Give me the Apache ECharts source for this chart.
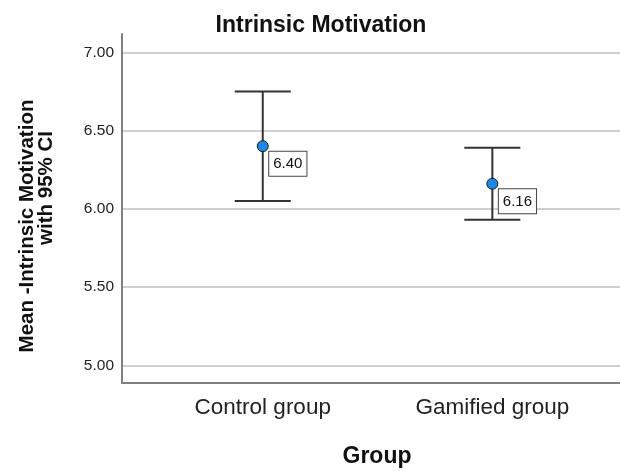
<!DOCTYPE html>
<html>
<head>
<meta charset="utf-8">
<script src="https://cdn.jsdelivr.net/npm/echarts@6/dist/echarts.min.js"></script>
<style>html,body{margin:0;padding:0;background:#fff;}#c{width:620px;height:471px;}</style>
</head>
<body>
<div id="c"></div>
<script>
const categories = ['Control group', 'Gamified group'];
const means = [6.40, 6.16];
const ciLower = [6.05, 5.93];
const ciUpper = [6.75, 6.39];
const yTicks = [5.00, 5.50, 6.00, 6.50, 7.00];
const titleText = 'Intrinsic Motivation';
const yTitleLines = ['Mean -Intrinsic Motivation', 'with 95% CI'];
const xTitle = 'Group';

const FONT = '"Liberation Sans", Arial, sans-serif';
const chart = echarts.init(document.getElementById('c'));
const xPos = categories.map((c, i) => i + 1);

chart.setOption({
  animation: false,
  backgroundColor: '#fff',
  title: {
    text: titleText, left: 316, top: 9, textAlign: 'center',
    textStyle: { fontFamily: FONT, fontSize: 23, fontWeight: 'bold', color: '#111' }
  },
  grid: { left: 122, right: 0, top: 34, bottom: 88, containLabel: false },
  xAxis: {
    type: 'value', min: 0.387, max: 2.556,
    axisLine: { show: true, onZero: false, lineStyle: { color: '#808080', width: 2 } },
    axisTick: { show: false },
    splitLine: { show: false },
    axisLabel: {
      customValues: xPos,
      formatter: v => categories[Math.round(v) - 1] || '',
      margin: 13,
      fontFamily: FONT, fontSize: 22.5, color: '#222'
    }
  },
  yAxis: {
    type: 'value', min: 4.887, max: 7.117,
    axisLine: { show: true, lineStyle: { color: '#808080', width: 2 } },
    axisTick: { show: false, customValues: yTicks },
    splitLine: { show: true, lineStyle: { color: '#cfcfcf', width: 2 } },
    axisLabel: {
      customValues: yTicks,
      formatter: v => v.toFixed(2),
      margin: 8,
      fontFamily: FONT, fontSize: 15.5, color: '#222'
    }
  },
  graphic: [
    { type: 'text', x: 27, y: 226, rotation: Math.PI / 2,
      style: { text: yTitleLines[0], font: 'bold 20.5px ' + FONT, fill: '#111', align: 'center', verticalAlign: 'middle' } },
    { type: 'text', x: 46, y: 188, rotation: Math.PI / 2,
      style: { text: yTitleLines[1], font: 'bold 20.5px ' + FONT, fill: '#111', align: 'center', verticalAlign: 'middle' } },
    { type: 'text', x: 377, y: 457,
      style: { text: xTitle, font: 'bold 23px ' + FONT, fill: '#111', align: 'center', verticalAlign: 'middle' } }
  ],
  series: [
    {
      type: 'custom',
      data: xPos.map((x, i) => [x, ciLower[i], ciUpper[i]]),
      encode: { x: 0, y: [1, 2] },
      z: 2,
      renderItem: function (params, api) {
        const x = api.value(0);
        const lo = api.coord([x, api.value(1)]);
        const hi = api.coord([x, api.value(2)]);
        const hw = 28;
        const st = { stroke: '#333', lineWidth: 2 };
        return {
          type: 'group',
          children: [
            { type: 'line', shape: { x1: lo[0], y1: lo[1], x2: hi[0], y2: hi[1] }, style: st },
            { type: 'line', shape: { x1: lo[0] - hw, y1: lo[1], x2: lo[0] + hw, y2: lo[1] }, style: st },
            { type: 'line', shape: { x1: hi[0] - hw, y1: hi[1], x2: hi[0] + hw, y2: hi[1] }, style: st }
          ]
        };
      }
    },
    {
      type: 'scatter',
      data: xPos.map((x, i) => [x, means[i]]),
      symbol: 'circle',
      symbolSize: 11,
      z: 3,
      itemStyle: { color: '#1e88e5', borderColor: '#1a1a1a', borderWidth: 1, opacity: 1 },
      label: {
        show: true,
        position: [12.5, 11.5],
        align: 'left', verticalAlign: 'top',
        formatter: p => p.value[1].toFixed(2),
        fontFamily: FONT, fontSize: 15, color: '#111',
        backgroundColor: '#fff', borderColor: '#444', borderWidth: 1,
        padding: [5, 4, 4, 4]
      }
    }
  ]
});
</script>
</body>
</html>
